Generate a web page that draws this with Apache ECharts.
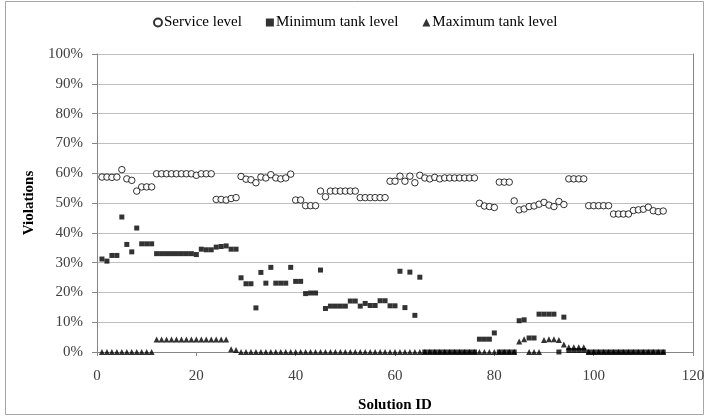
<!DOCTYPE html>
<html>
<head>
<meta charset="utf-8">
<script src="https://cdn.jsdelivr.net/npm/echarts@6/dist/echarts.min.js"></script>
<style>
  html, body { margin: 0; padding: 0; background: #fff; }
  #chart { width: 709px; height: 418px; }
</style>
</head>
<body>
<div id="chart"></div>
<script>
// solution ids 1..114
var solutionIds = [
  1, 2, 3, 4, 5, 6, 7, 8, 9, 10, 11, 12, 13, 14, 15, 16, 17, 18, 19, 20,
  21, 22, 23, 24, 25, 26, 27, 28, 29, 30, 31, 32, 33, 34, 35, 36, 37, 38, 39, 40,
  41, 42, 43, 44, 45, 46, 47, 48, 49, 50, 51, 52, 53, 54, 55, 56, 57, 58, 59, 60,
  61, 62, 63, 64, 65, 66, 67, 68, 69, 70, 71, 72, 73, 74, 75, 76, 77, 78, 79, 80,
  81, 82, 83, 84, 85, 86, 87, 88, 89, 90, 91, 92, 93, 94, 95, 96, 97, 98, 99, 100,
  101, 102, 103, 104, 105, 106, 107, 108, 109, 110, 111, 112, 113, 114
];

// violations in %
var serviceLevel = [
  58.7, 58.7, 58.6, 58.7, 61.2, 58.1, 57.6, 54.0, 55.4, 55.4,
  55.4, 59.8, 59.8, 59.8, 59.8, 59.8, 59.8, 59.8, 59.8, 59.3,
  59.8, 59.8, 59.8, 51.2, 51.2, 51.0, 51.5, 51.8, 58.9, 58.0,
  57.8, 56.8, 58.7, 58.4, 59.5, 58.4, 58.1, 58.4, 59.7, 51.0,
  51.0, 49.1, 49.1, 49.1, 54.0, 52.1, 54.0, 54.0, 54.0, 54.0,
  54.0, 54.0, 51.8, 51.8, 51.8, 51.8, 51.8, 51.8, 57.3, 57.3,
  59.0, 57.3, 59.0, 56.8, 59.3, 58.4, 58.1, 58.6, 58.1, 58.4,
  58.4, 58.4, 58.4, 58.4, 58.4, 58.4, 49.9, 49.0, 48.8, 48.5,
  57.0, 57.0, 57.0, 50.7, 47.7, 48.0, 48.8, 49.0, 49.6, 50.2,
  49.3, 48.8, 50.5, 49.5, 58.1, 58.1, 58.1, 58.1, 49.1, 49.1,
  49.1, 49.1, 49.1, 46.3, 46.3, 46.3, 46.3, 47.5, 47.7, 47.9,
  48.6, 47.4, 47.1, 47.3
];

var minTankLevel = [
  31.2, 30.5, 32.4, 32.4, 45.3, 36.1, 33.6, 41.6, 36.3, 36.3,
  36.3, 33.0, 33.0, 33.0, 33.0, 33.0, 33.0, 33.0, 33.0, 32.7,
  34.5, 34.3, 34.3, 35.2, 35.4, 35.6, 34.5, 34.5, 24.9, 22.9,
  22.9, 14.8, 26.7, 23.1, 28.4, 23.1, 23.1, 23.1, 28.4, 23.7,
  23.7, 19.6, 19.8, 19.8, 27.5, 14.6, 15.4, 15.4, 15.4, 15.4,
  17.1, 17.1, 15.4, 16.3, 15.6, 15.6, 17.2, 17.2, 15.5, 15.5,
  27.1, 14.9, 26.8, 12.3, 25.1, 0, 0, 0, 0, 0,
  0, 0, 0, 0, 0, 0, 4.3, 4.3, 4.3, 6.4,
  0, 0, 0, 0, 10.5, 10.8, 4.7, 4.7, 12.7, 12.7,
  12.7, 12.7, 0, 11.7, 0.5, 0.5, 0.5, 0.5, 0, 0,
  0, 0, 0, 0, 0, 0, 0, 0, 0, 0,
  0, 0, 0, 0
];

var maxTankLevel = [
  0, 0, 0, 0, 0, 0, 0, 0, 0, 0,
  0, 4.2, 4.2, 4.2, 4.2, 4.2, 4.2, 4.2, 4.2, 4.2,
  4.2, 4.2, 4.2, 4.2, 4.2, 4.2, 0.9, 0.7, 0, 0,
  0, 0, 0, 0, 0, 0, 0, 0, 0, 0,
  0, 0, 0, 0, 0, 0, 0, 0, 0, 0,
  0, 0, 0, 0, 0, 0, 0, 0, 0, 0,
  0, 0, 0, 0, 0, 0, 0, 0, 0, 0,
  0, 0, 0, 0, 0, 0, 0, 0, 0, 0,
  0, 0, 0, 0, 3.5, 4.3, 0, 0, 0, 4.0,
  4.3, 4.3, 4.0, 2.5, 1.6, 1.6, 1.6, 1.6, 0, 0,
  0, 0, 0, 0, 0, 0, 0, 0, 0, 0,
  0, 0, 0, 0
];

var yTicks = [0, 10, 20, 30, 40, 50, 60, 70, 80, 90, 100];

function pairs(vals) {
  return solutionIds.map(function (id, i) { return [id, vals[i]]; });
}

var font = 'Liberation Serif';
var myChart = echarts.init(document.getElementById('chart'), null, { renderer: 'canvas' });

var option = {
  animation: false,
  backgroundColor: '#fff',
  graphic: [{
    type: 'rect',
    shape: { x: 5.5, y: 1.5, width: 698, height: 413 },
    style: { fill: 'none', stroke: '#a6a6a6', lineWidth: 1 },
    silent: true
  }],
  legend: {
    top: 10,
    left: 148,
    itemGap: 24,
    itemWidth: 8,
    itemHeight: 8,
    textStyle: { fontFamily: font, fontSize: 15, color: '#000', padding: [0, 0, 0, -3] },
    data: ['Service level', 'Minimum tank level', 'Maximum tank level']
  },
  grid: {
    left: 97,
    right: 16,
    top: 54,
    bottom: 61
  },
  xAxis: {
    type: 'value',
    min: 0,
    max: 120,
    interval: 20,
    name: 'Solution ID',
    nameLocation: 'middle',
    nameGap: 46,
    nameTextStyle: { fontFamily: font, fontSize: 15, fontWeight: 'bold', color: '#000' },
    axisLine: { show: true, lineStyle: { color: '#868686', width: 1 } },
    axisTick: { show: true, inside: false, length: 4, lineStyle: { color: '#868686' } },
    axisLabel: { fontFamily: font, fontSize: 15, color: '#404040', margin: 17 },
    splitLine: { show: false }
  },
  yAxis: [{
    type: 'value',
    min: yTicks[0],
    max: yTicks[yTicks.length - 1],
    interval: 10,
    name: 'Violations',
    nameLocation: 'middle',
    nameGap: 57,
    nameTextStyle: { fontFamily: font, fontSize: 15, fontWeight: 'bold', color: '#000' },
    axisLine: { show: true, lineStyle: { color: '#868686', width: 1 } },
    axisTick: { show: true, inside: false, length: 5, lineStyle: { color: '#868686' } },
    axisLabel: { fontFamily: font, fontSize: 15, color: '#404040', margin: 14, formatter: '{value}%' },
    splitLine: { show: true, lineStyle: { color: '#bfbfbf', width: 1 } }
  }, {
    // right border of the plot area
    type: 'value',
    position: 'right',
    min: 0,
    max: 100,
    interval: 10,
    axisLine: { show: true, lineStyle: { color: '#868686', width: 1 } },
    axisTick: { show: false },
    axisLabel: { show: false },
    splitLine: { show: false }
  }],
  series: [
    {
      name: 'Service level',
      type: 'scatter',
      symbol: 'circle',
      symbolSize: 6.5,
      itemStyle: { color: '#fff', borderColor: '#000', borderWidth: 1 },
      data: pairs(serviceLevel),
      z: 3
    },
    {
      name: 'Minimum tank level',
      type: 'scatter',
      symbol: 'rect',
      symbolSize: 5,
      itemStyle: { color: '#000' },
      data: pairs(minTankLevel),
      z: 4
    },
    {
      name: 'Maximum tank level',
      type: 'scatter',
      symbol: 'triangle',
      symbolSize: [6, 6],
      itemStyle: { color: '#000' },
      data: pairs(maxTankLevel),
      z: 5
    }
  ]
};

myChart.setOption(option);
</script>
</body>
</html>
